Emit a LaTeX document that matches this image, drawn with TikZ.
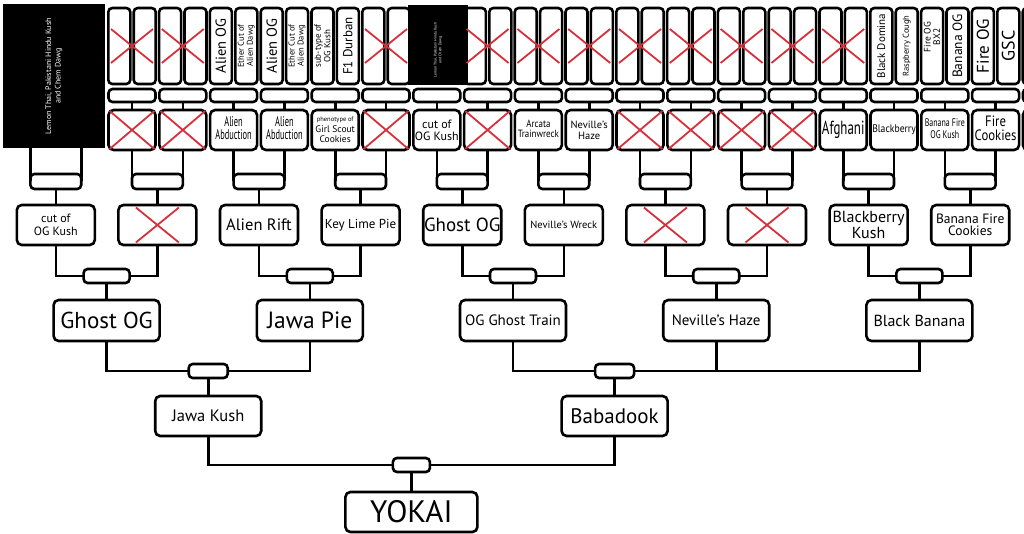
\documentclass[tikz,border=0pt]{standalone}
\usepackage{fontspec}
\setmainfont{PT Sans}
\usepackage{graphicx}
\newcommand{\fs}[2]{\fontsize{#1}{#2}\selectfont}
\newcommand{\nw}[2]{\scalebox{#1}[1]{\begin{tabular}{@{}c@{}}#2\end{tabular}}}
\definecolor{xred}{RGB}{214,48,58}
\tikzset{
 bx/.style={draw, line width=2.6pt, rounded corners=5pt, fill=white, inner sep=0pt, outer sep=0pt, align=center},
 lsix/.style={bx, rotate=90, minimum width=76pt, minimum height=22pt, rounded corners=4pt},
 lfive/.style={bx, minimum width=47pt, minimum height=40pt},
 lfour/.style={bx, minimum width=78pt, minimum height=40pt},
 lthree/.style={bx, minimum width=106pt, minimum height=41pt},
 ltwo/.style={bx, minimum width=106pt, minimum height=40pt},
 lone/.style={bx, minimum width=132pt, minimum height=40pt},
 csix/.style={bx, minimum width=47pt, minimum height=13pt, rounded corners=4pt},
 cup/.style={bx, minimum width=50.8pt, minimum height=15pt, rounded corners=4pt},
 cjoin/.style={bx, minimum width=46pt, minimum height=14pt, rounded corners=4pt},
 csmall/.style={bx, minimum width=39pt, minimum height=14pt, rounded corners=4pt},
 wire/.style={line width=2.6pt},
 xmark/.style={draw=xred, line width=1.8pt},
 blk/.style={fill=black, inner sep=0pt, outer sep=0pt},
 rtxt/.style={inner sep=0pt, align=center, rotate=90},
 wtxt/.style={rtxt, text=white},
}
\begin{document}
\begin{tikzpicture}[x=1pt,y=-1pt]
\useasboundingbox (0,0) rectangle (1024,534);
\clip (0,0) rectangle (1024,534);
\fill[white] (0,0) rectangle (1024,534);

% ---------- level 6 ----------
\foreach \n/\x in {5/119.3,6/144.7,7/170.1,8/195.5,15/373.3,16/398.7,19/474.9,20/500.3,21/525.7,22/551.1,23/576.5,24/601.9,25/627.3,26/652.7,27/678.1,28/703.5,29/728.9,30/754.3,31/779.7,32/805.1,33/830.5,34/855.9,37/932.1,41/1033.7}
  \node[lsix] (s\n) at (\x,46) {};
\node[lsix, font=\fs{14.5}{14}] (s9) at (220.9,46) {Alien OG};
\node[lsix, font=\fs{8.5}{9}] (s10) at (246.3,46) {Ether Cut of\\Alien Dawg};
\node[lsix, font=\fs{14.5}{14}] (s11) at (271.7,46) {Alien OG};
\node[lsix, font=\fs{8.5}{9}] (s12) at (297.1,46) {Ether Cut of\\Alien Dawg};
\node[lsix, font=\fs{9}{9.5}] (s13) at (322.5,46) {sub-type of\\OG Kush};
\node[lsix, font=\fs{13}{13}] (s14) at (347.9,46) {F1 Durban};
\node[lsix, font=\fs{11}{11}] (s35) at (881.3,46) {Black Domina};
\node[lsix, font=\fs{8.5}{9}] (s36) at (906.7,46) {Raspberry Cough};
\node[rtxt, font=\fs{9.5}{9.5}] (t37) at (932.1,37) {Fire OG\\BX2};
\node[lsix, font=\fs{13.5}{13.5}] (s38) at (957.5,46) {Banana OG};
\node[lsix, font=\fs{17}{17}] (s39) at (982.9,46) {Fire OG};
\node[lsix, font=\fs{18}{18}] (s40) at (1008.3,46) {GSC};

% ---------- level 6 joins ----------
\foreach \j/\x in {3/132.0,4/182.8,5/233.6,6/284.4,7/335.2,8/386.0,9/436.8,10/487.6,11/538.4,12/589.2,13/640.0,14/690.8,15/741.6,16/792.4,17/843.2,18/894.0,19/944.8,20/995.6,21/1046.4}
  \node[csix] (c\j) at (\x,95.5) {};

% ---------- level 5 ----------
\foreach \j/\x in {3/132.0,4/182.8,8/386.0,10/487.6,13/640.0,14/690.8,15/741.6,16/792.4,21/1046.4}
  \node[lfive] (f\j) at (\x,130) {};
\node[lfive, font=\fs{14}{12}] (f5) at (233.6,130) {\nw{0.6}{Alien\\Abduction}};
\node[lfive, font=\fs{14}{12}] (f6) at (284.4,130) {\nw{0.6}{Alien\\Abduction}};
\node[lfive, font=\fs{9.5}{10.5}] (f7) at (335.2,130) {{\fs{6.5}{8}phenotype of}\\Girl Scout\\Cookies};
\node[lfive, font=\fs{12}{12}] (f9) at (436.8,130) {cut of\\OG Kush};
\node[lfive, font=\fs{10.5}{10}] (f11) at (538.4,130) {\nw{0.85}{Arcata\\Trainwreck}};
\node[lfive, font=\fs{10.5}{11}] (f12) at (589.2,130) {Neville's\\Haze};
\node[lfive, font=\fs{19}{18}] (f17) at (843.2,130) {\nw{0.68}{Afghani}};
\node[lfive, font=\fs{11}{11}] (f18) at (894.0,130) {\nw{0.88}{Blackberry}};
\node[lfive, font=\fs{11}{11.5}] (f19) at (944.8,130) {\nw{0.72}{Banana Fire\\OG Kush}};
\node[lfive, font=\fs{15}{13}] (f20) at (995.6,130) {\nw{0.85}{Fire\\Cookies}};

\foreach \j in {3,...,21}
  \draw[wire] (c\j.south) -- (f\j.north);

% ---------- black boxes ----------
\node[blk, minimum width=102pt, minimum height=144pt] (lemA) at (54,76) {};
\node[wtxt, font=\fs{8}{9.5}] (lemAt) at (lemA.center) {Lemon Thai, Pakistani Hindu Kush\\and Chem Dawg};
\node[blk, minimum width=60pt, minimum height=80pt] (lemB) at (438,45) {};
\node[wtxt, font=\fs{3.8}{4.6}] (lemBt) at (438,50) {Lemon Thai, Pakistani Hindu Kush\\and Chem Dawg};

% ---------- level 5 cups ----------
\foreach \i/\x in {1/55.8,2/157.4,3/259.0,4/360.6,5/462.2,6/563.8,7/665.4,8/767.0,9/868.6,10/970.2}
  \node[cup] (u\i) at (\x,181.5) {};
\draw[wire] (u1.north west |- lemA.south) -- (u1.west);
\draw[wire] (u1.north east |- lemA.south) -- (u1.east);
\foreach \i/\a/\b in {2/3/4,3/5/6,4/7/8,5/9/10,6/11/12,7/13/14,8/15/16,9/17/18,10/19/20}{
  \draw[wire] (f\a.south) -- (f\a.south |- u\i.center);
  \draw[wire] (f\b.south) -- (f\b.south |- u\i.center);
}

% ---------- level 4 ----------
\foreach \i/\x in {2/157.4,7/665.4,8/767.0}
  \node[lfour] (d\i) at (\x,225) {};
\node[lfour, font=\fs{12}{13}] (d1) at (55.8,225) {cut of\\OG Kush};
\node[lfour, font=\fs{16.5}{16}] (d3) at (259.0,225) {Alien Rift};
\node[lfour, font=\fs{13}{13}] (d4) at (360.6,225) {Key Lime Pie};
\node[lfour, font=\fs{19}{19}] (d5) at (462.2,225) {Ghost OG};
\node[lfour, font=\fs{10.5}{10}] (d6) at (563.8,225) {Neville's Wreck};
\node[lfour, font=\fs{16}{14}] (d9) at (868.6,225) {Blackberry\\Kush};
\node[lfour, font=\fs{13.5}{12}] (d10) at (970.2,225) {Banana Fire\\Cookies};
\foreach \i in {1,...,10}
  \draw[wire] (u\i.south) -- (d\i.north);

% ---------- level 3 ----------
\node[lthree, font=\fs{23}{22}] (t1) at (106.6,320.5) {Ghost OG};
\node[lthree, font=\fs{23.5}{22}] (t2) at (309.8,320.5) {Jawa Pie};
\node[lthree, font=\fs{15}{14}] (t3) at (513.0,320.5) {OG Ghost Train};
\node[lthree, font=\fs{15}{14}] (t4) at (716.2,320.5) {Neville's Haze};
\node[lthree, font=\fs{16}{15}] (t5) at (919.4,320.5) {Black Banana};
\foreach \m/\x/\a/\b in {1/106.6/1/2,2/309.8/3/4,3/513.0/5/6,4/716.2/7/8,5/919.4/9/10}{
  \node[cjoin] (j\m) at (\x,276) {};
  \draw[wire] (d\a.south) |- (j\m.west);
  \draw[wire] (d\b.south) |- (j\m.east);
  \draw[wire] (j\m.south) -- (t\m.north);
}

% ---------- level 2 ----------
\node[ltwo, font=\fs{16.5}{15}] (g1) at (208.2,416) {Jawa Kush};
\node[ltwo, font=\fs{21}{19}] (g2) at (614.6,416) {Babadook};
\node[csmall] (k1) at (208.2,371) {};
\node[csmall] (k2) at (614.6,371) {};
\draw[wire] (t1.south) |- (k1.west);
\draw[wire] (t2.south) |- (k1.east);
\draw[wire] (k1.south) -- (g1.north);
\draw[wire] (t3.south) |- (k2.west);
\draw[wire] (t5.south) |- (k2.east);
\draw[wire] (t4.south) -- (t4.south |- k2.center);
\draw[wire] (k2.south) -- (g2.north);

% ---------- level 1 ----------
\node[lone, font=\fs{31}{28}] (yk) at (411.4,512) {YOKAI};
\node[csmall, minimum width=37pt] (m1) at (411.4,465) {};
\draw[wire] (g1.south) |- (m1.west);
\draw[wire] (g2.south) |- (m1.east);
\draw[wire] (m1.south) -- (yk.north);

% ---------- red crosses ----------
\foreach \x in {132.0,182.8,386.0,487.6,538.4,589.2,640.0,690.8,741.6,792.4,843.2}{
  \draw[xmark] ({\x-21},29) -- ({\x+21},63);
  \draw[xmark] ({\x-21},63) -- ({\x+21},29);
}
\foreach \j in {3,4,8,10,13,14,15,16}{
  \draw[xmark, shorten <=1.5pt, shorten >=1.5pt] (f\j.north west) -- (f\j.south east);
  \draw[xmark, shorten <=1.5pt, shorten >=1.5pt] (f\j.south west) -- (f\j.north east);
}
\foreach \i in {2,7,8}{
  \draw[xmark] ([shift={(-21.5,-17.5)}]d\i.center) -- ([shift={(21.5,17.5)}]d\i.center);
  \draw[xmark] ([shift={(-21.5,17.5)}]d\i.center) -- ([shift={(21.5,-17.5)}]d\i.center);
}
\end{tikzpicture}
\end{document}
